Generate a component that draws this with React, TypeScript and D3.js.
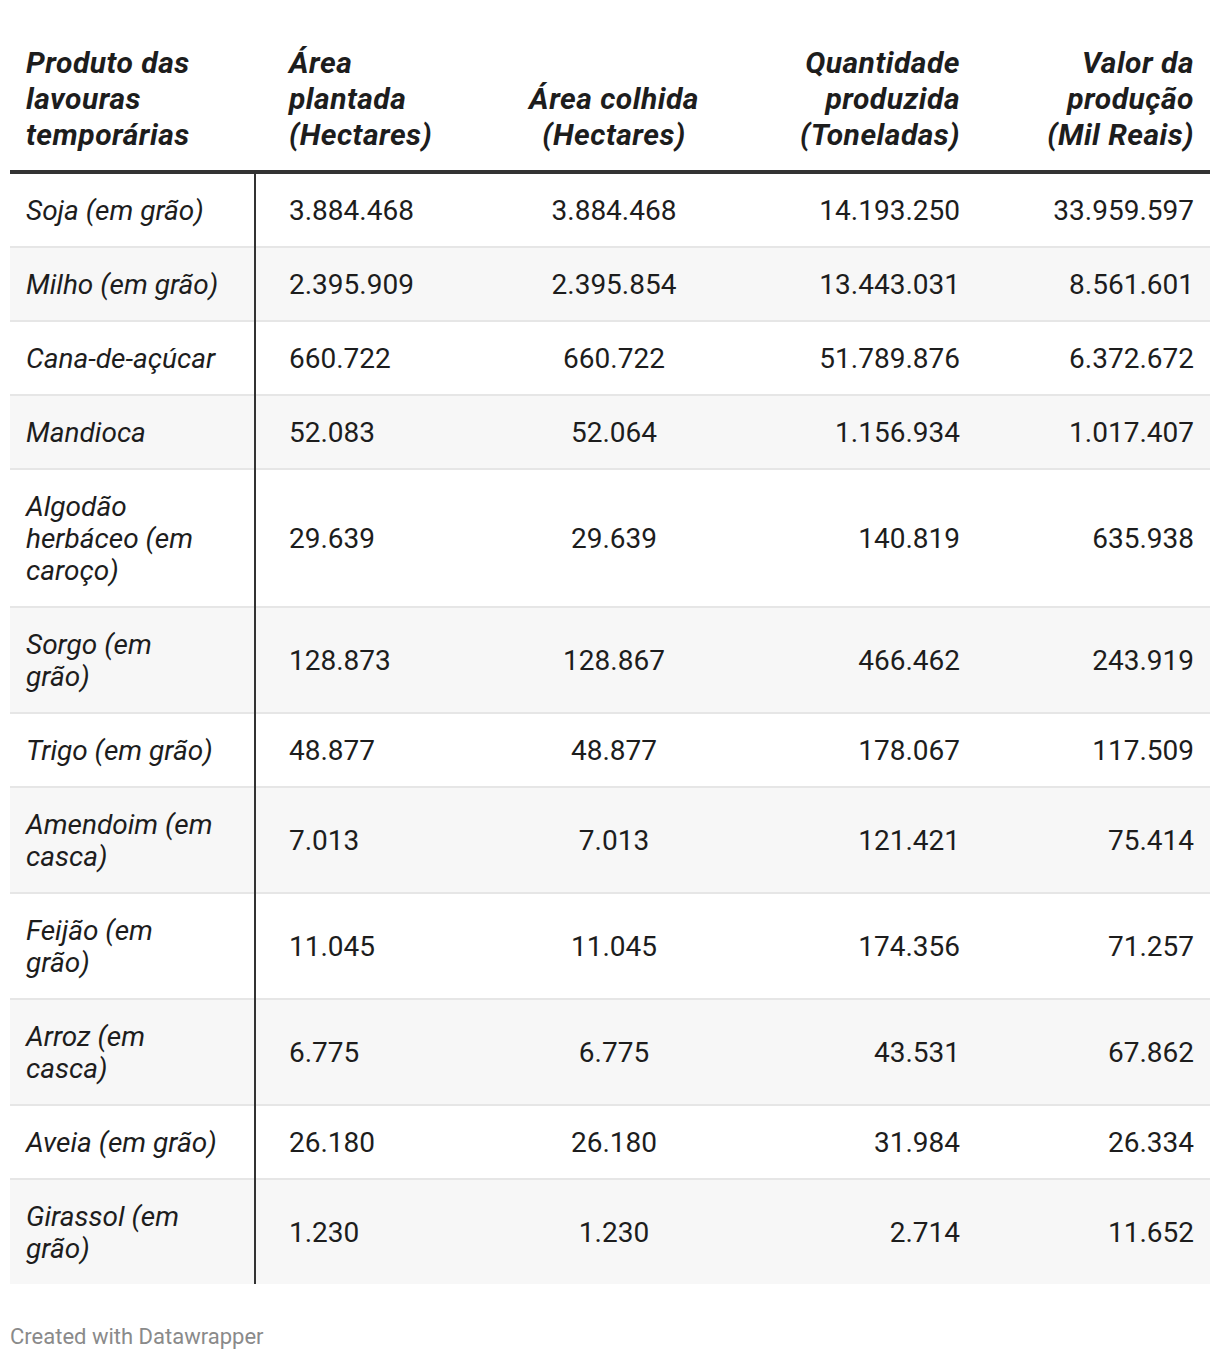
import React from "react";
import * as d3 from "d3";

const headers = [
  "Produto das\nlavouras\ntemporárias",
  "Área\nplantada\n(Hectares)",
  "Área colhida\n(Hectares)",
  "Quantidade\nproduzida\n(Toneladas)",
  "Valor da\nprodução\n(Mil Reais)",
];

const products = [
  "Soja (em grão)",
  "Milho (em grão)",
  "Cana-de-açúcar",
  "Mandioca",
  "Algodão\nherbáceo (em\ncaroço)",
  "Sorgo (em\ngrão)",
  "Trigo (em grão)",
  "Amendoim (em\ncasca)",
  "Feijão (em\ngrão)",
  "Arroz (em\ncasca)",
  "Aveia (em grão)",
  "Girassol (em\ngrão)",
];

const areaPlantada = [3884468, 2395909, 660722, 52083, 29639, 128873, 48877, 7013, 11045, 6775, 26180, 1230];
const areaColhida = [3884468, 2395854, 660722, 52064, 29639, 128867, 48877, 7013, 11045, 6775, 26180, 1230];
const quantidade = [14193250, 13443031, 51789876, 1156934, 140819, 466462, 178067, 121421, 174356, 43531, 31984, 2714];
const valor = [33959597, 8561601, 6372672, 1017407, 635938, 243919, 117509, 75414, 71257, 67862, 26334, 11652];

const footer = "Created with Datawrapper";

const locale = d3.formatLocale({ decimal: ",", thousands: ".", grouping: [3], currency: ["R$", ""] });
const fmt = locale.format(",d");

const W = 1220;
const H = 1360;
const FONT = "Roboto, 'Noto Sans', sans-serif";
const TEXT = "#1d1d1d";

export default function App() {
  const left = 10;
  const right = 1210;
  const bodyTop = 174;
  const baseRow = 74;
  const lineH = 32;

  const lines = products.map((p) => p.split("\n"));
  const heights = lines.map((l) => baseRow + lineH * (l.length - 1));
  const tops = [bodyTop, ...Array.from(d3.cumsum(heights)).map((c) => bodyTop + c)];
  const bottom = tops[tops.length - 1] - 2;

  const numCols = [areaPlantada, areaColhida, quantidade, valor];
  const colX = [26, 289, 614, 960, 1194];
  const colAnchor = ["start", "start", "middle", "end", "end"];

  const capShift = 10;
  const headerLastBaseline = 145;
  const headerLineH = 36;

  return (
    <svg
      width={W}
      height={H}
      style={{ position: "absolute", left: 0, top: 0, background: "#fff" }}
      fontFamily={FONT}
    >
      <rect x={0} y={0} width={W} height={H} fill="#fff" />
      {headers.map((h, ci) => {
        const ls = h.split("\n");
        return (
          <text
            key={"h" + ci}
            x={colX[ci]}
            textAnchor={colAnchor[ci] as any}
            fontSize={30}
            fontWeight={700}
            fontStyle="italic"
            letterSpacing={0.5}
            fill={TEXT}
          >
            {ls.map((t, li) => (
              <tspan key={li} x={colX[ci]} y={headerLastBaseline - (ls.length - 1 - li) * headerLineH}>
                {t}
              </tspan>
            ))}
          </text>
        );
      })}
      {products.map((p, ri) => {
        const top = tops[ri];
        const h = heights[ri];
        const isLast = ri === products.length - 1;
        const contentH = h - 2;
        const center = top + contentH / 2;
        const ls = lines[ri];
        return (
          <g key={"r" + ri}>
            <rect x={left} y={top} width={right - left} height={contentH} fill={ri % 2 === 1 ? "#f7f7f7" : "#ffffff"} />
            {!isLast && <rect x={left} y={top + contentH} width={right - left} height={2} fill="#e6e6e6" />}
            <text x={colX[0]} fontSize={28} fontStyle="italic" fill={TEXT}>
              {ls.map((t, li) => (
                <tspan key={li} x={colX[0]} y={center + (li - (ls.length - 1) / 2) * lineH + capShift}>
                  {t}
                </tspan>
              ))}
            </text>
            {numCols.map((col, ci) => (
              <text
                key={ci}
                x={colX[ci + 1]}
                y={center + capShift}
                textAnchor={colAnchor[ci + 1] as any}
                fontSize={28}
                fill={TEXT}
              >
                {fmt(col[ri])}
              </text>
            ))}
          </g>
        );
      })}
      <rect x={left} y={170} width={right - left} height={4} fill="#333333" />
      <rect x={254} y={174} width={2} height={bottom - 174} fill="#333333" />
      <text x={10} y={1344} fontSize={22} fill="#8a8a8a">
        {footer}
      </text>
    </svg>
  );
}
